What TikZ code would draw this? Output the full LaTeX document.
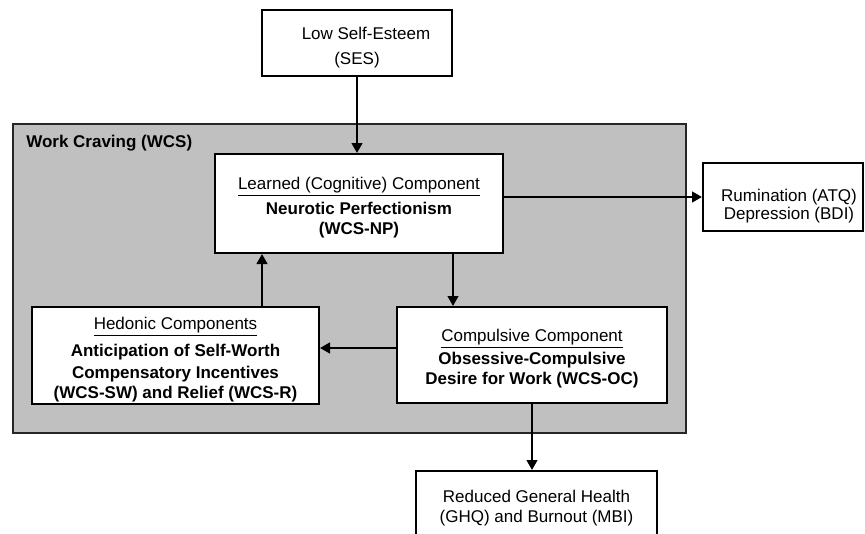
\documentclass[tikz,border=0pt]{standalone}
\usepackage{fontspec}
\setmainfont{Liberation Sans}
\usetikzlibrary{arrows.meta}
\definecolor{panelgray}{HTML}{C0C0C0}
\newcommand\diafont{\fontsize{12.75}{15.75}\selectfont}
\begin{document}
\begin{tikzpicture}[x=0.75pt,y=-0.75pt,
  box/.style={draw=black,line width=1.5pt,fill=white,inner sep=0pt},
  txt/.style={inner sep=0pt,align=center,font=\diafont},
  arr/.style={line width=1.7pt,-{Triangle[length=7.5pt,width=8pt]}},
]
\useasboundingbox (0,0) rectangle (865,533);
\clip (0,0) rectangle (865,533);
% panel
\node[draw=black!85,line width=1.1pt,fill=panelgray,inner sep=0pt,minimum width=504.75pt,minimum height=231.75pt] (panel) at (349.5,278.5) {};
\node[anchor=west,inner sep=0pt,font=\diafont\bfseries] (wcs) at (26,143) {Work Craving (WCS)};
% boxes
\node[box,minimum width=142.5pt,minimum height=49.5pt] (ses) at (357,43) {};
\node[box,minimum width=216pt,minimum height=74.25pt] (np) at (359,203.5) {};
\node[box,minimum width=120pt,minimum height=51pt] (rum) at (783,197) {};
\node[box,minimum width=215.25pt,minimum height=72.75pt] (hed) at (175.5,355.5) {};
\node[box,minimum width=202.5pt,minimum height=72pt] (oc) at (532,355) {};
\node[box,minimum width=180.75pt,minimum height=52.5pt] (out) at (536.5,506) {};
% texts
\node[txt] (sestxt) at (357,47.5)
  {\hspace*{13.5pt}Low Self-Esteem\\[3pt](SES)};
\node[txt] (nptxt) at (359,207.5)
  {\underline{Learned (Cognitive) Component}\\[3pt]\textbf{Neurotic Perfectionism}\\[-0.75pt]\textbf{(WCS-NP)}};
\node[txt] (rumtxt) at (789,206)
  {Rumination (ATQ)\\[-2.25pt]Depression (BDI)};
\node[txt] (hedtxt) at (175.5,359.5)
  {\underline{Hedonic Components}\\[4.5pt]\textbf{Anticipation of Self-Worth}\\[0.75pt]\textbf{Compensatory Incentives}\\[-0.75pt]\textbf{(WCS-SW) and Relief (WCS-R)}};
\node[txt] (octxt) at (532,358.5)
  {\underline{Compulsive Component}\\[1.5pt]\textbf{Obsessive-Compulsive}\\[-0.75pt]\textbf{Desire for Work (WCS-OC)}};
\node[txt] (outtxt) at (536.5,508)
  {Reduced General Health\\[-0.75pt](GHQ) and Burnout (MBI)};
% helper coordinates
\coordinate (cnp) at (453,0);
\coordinate (chd) at (262,0);
\coordinate (coc) at (0,348);
% connectors
\draw[arr] (ses.south) -- (ses.south |- np.north);
\draw[arr] (np.east |- rum.west) -- (rum.west);
\draw[arr] (np.south -| cnp) -- (oc.north -| cnp);
\draw[arr] (oc.west |- coc) -- (hed.east |- coc);
\draw[arr] (hed.north -| chd) -- (np.south -| chd);
\draw[arr] (oc.south) -- (oc.south |- out.north);
\end{tikzpicture}
\end{document}
